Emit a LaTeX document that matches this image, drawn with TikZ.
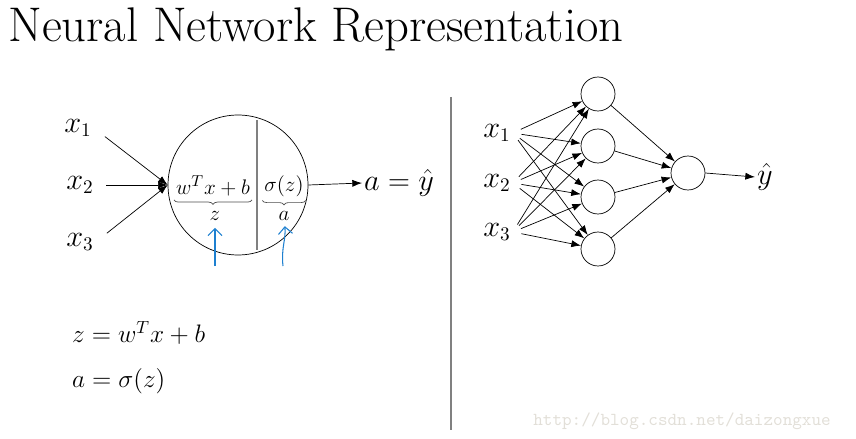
\documentclass[tikz,border=0pt]{standalone}
\usepackage{amsmath}
\usepackage{tikz}
\usetikzlibrary{arrows.meta, decorations.pathreplacing}
\definecolor{penblue}{RGB}{30,128,208}
\definecolor{markgray}{RGB}{226,223,216}
\tikzstyle{inp} = [font=\fontsize{16}{19}\selectfont, inner sep=1pt]
\tikzstyle{inner} = [font=\fontsize{12.5}{15}\selectfont, inner sep=1pt]
\tikzstyle{cell} = [circle, draw=black, minimum size=2.8cm, inner sep=0pt]
\tikzstyle{unit} = [circle, draw=black, minimum size=0.68cm, inner sep=0pt]
\tikzstyle{arrow} = [->,>={Latex[length=5.5pt, width=4pt]}]
\tikzstyle{brace} = [decorate, decoration={brace, mirror, amplitude=2.5pt}, draw=black!70]
\tikzstyle{pen} = [->,>={Straight Barb[length=4pt, width=8pt]}, draw=penblue, semithick]
\tikzstyle{rule} = [draw=gray, semithick]

\begin{document}
\begin{tikzpicture}[x=0.02cm, y=-0.02cm]
\useasboundingbox (0,0) rectangle (856,439);
\node (title) [anchor=base west, inner sep=0pt, font=\fontsize{27.7}{33}\selectfont] at (8,42) {Neural Network Representation};

% one neuron
\node (x1) [inp] at (78,128) {$x_1$};
\node (x2) [inp] at (80,185) {$x_2$};
\node (x3) [inp] at (80,242) {$x_3$};
\node (neuron) [cell] at (238,185) {};
\node (lin) [inner] at (213,186) {$w^Tx+b$};
\node (act) [inner] at (284,186) {$\sigma(z)$};
\node (z) [inner] at (215,216) {$z$};
\node (a) [inner] at (284,216) {$a$};
\node (out) [inp, anchor=west] at (362,183) {$a=\hat{y}$};
\coordinate (zpen) at (215,266);
\coordinate (apen) at (283,266);

\draw [rule] (neuron.center) ++(19,-65) -- ++(0,130);
\draw [arrow, shorten <=8pt] (x1.east) -- (neuron.west);
\draw [arrow, shorten <=6pt] (x2.east) -- (neuron.west);
\draw [arrow, shorten <=8pt] (x3.east) -- (neuron.west);
\draw [arrow] (neuron.east) -- (out.west);
\draw [brace] ([yshift=-1pt]lin.south west) -- ([yshift=-1pt]lin.south east);
\draw [brace] ([yshift=-1pt]act.south west) -- ([yshift=-1pt]act.south east);
\draw [pen, shorten >=3pt] (zpen) -- (z);
\draw [pen, shorten >=2pt] (apen) .. controls (281,248) and (286,240) .. (a);

\node (eqz) [inp, anchor=west, font=\fontsize{14}{17}\selectfont] at (70,333) {$z=w^Tx+b$};
\node (eqa) [inp, anchor=west, font=\fontsize{14}{17}\selectfont] at (70,381) {$a=\sigma(z)$};

% separator
\coordinate (septop) at (451,97);
\coordinate (sepbot) at (451,430);
\draw [rule] (septop) -- (sepbot);

% small network
\node (in1) [inp] at (497,133) {$x_1$};
\node (in2) [inp] at (497,183) {$x_2$};
\node (in3) [inp] at (497,232) {$x_3$};
\node (h1) [unit] at (598,94) {};
\node (h2) [unit] at (598,146) {};
\node (h3) [unit] at (598,197) {};
\node (h4) [unit] at (598,249) {};
\node (o) [unit] at (688,173) {};
\node (yhat) [inp, anchor=west] at (755,177) {$\hat{y}$};

\draw [arrow, shorten <=5pt] (in1.east) -- (h1);
\draw [arrow, shorten <=5pt] (in1.east) -- (h2);
\draw [arrow, shorten <=5pt] (in1.east) -- (h3);
\draw [arrow, shorten <=5pt] (in1.east) -- (h4);
\draw [arrow, shorten <=5pt] (in2.east) -- (h1);
\draw [arrow, shorten <=5pt] (in2.east) -- (h2);
\draw [arrow, shorten <=5pt] (in2.east) -- (h3);
\draw [arrow, shorten <=5pt] (in2.east) -- (h4);
\draw [arrow, shorten <=5pt] (in3.east) -- (h1);
\draw [arrow, shorten <=5pt] (in3.east) -- (h2);
\draw [arrow, shorten <=5pt] (in3.east) -- (h3);
\draw [arrow, shorten <=5pt] (in3.east) -- (h4);
\draw [arrow] (h1) -- (o);
\draw [arrow] (h2) -- (o);
\draw [arrow] (h3) -- (o);
\draw [arrow] (h4) -- (o);
\draw [arrow] (o.east) -- (yhat.west);

\node (mark) [anchor=west, inner sep=0pt, text=markgray, font=\ttfamily\fontsize{10.4}{12}\selectfont] at (533,421) {http://blog.csdn.net/daizongxue};
\end{tikzpicture}
\end{document}
